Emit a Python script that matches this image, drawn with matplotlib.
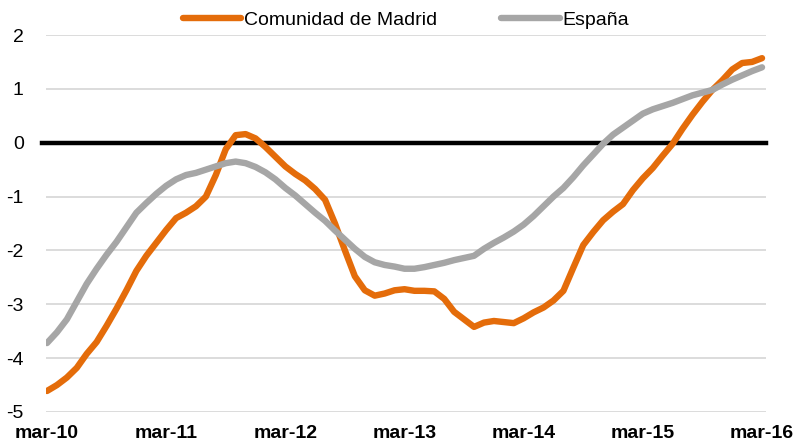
import matplotlib
matplotlib.use("Agg")
import matplotlib.pyplot as plt

plt.rcParams['font.family'] = ['Liberation Sans', 'DejaVu Sans']

tick_labels = ["mar-10", "mar-11", "mar-12", "mar-13", "mar-14", "mar-15", "mar-16"]

madrid = [-4.61, -4.50, -4.36, -4.18, -3.92, -3.70, -3.40, -3.08, -2.74, -2.38,
          -2.10, -1.86, -1.62, -1.40, -1.30, -1.18, -1.00, -0.60, -0.12, 0.14,
          0.16, 0.08, -0.08, -0.26, -0.44, -0.58, -0.70, -0.86, -1.06, -1.50,
          -2.00, -2.48, -2.74, -2.84, -2.80, -2.74, -2.72, -2.75, -2.75, -2.76,
          -2.90, -3.14, -3.28, -3.42, -3.34, -3.31, -3.33, -3.35, -3.26, -3.15,
          -3.06, -2.93, -2.75, -2.32, -1.90, -1.66, -1.44, -1.28, -1.14, -0.88,
          -0.66, -0.47, -0.24, -0.02, 0.26, 0.52, 0.76, 0.98, 1.16, 1.36,
          1.48, 1.50, 1.57]

espana = [-3.72, -3.52, -3.28, -2.95, -2.62, -2.34, -2.08, -1.84, -1.57, -1.30,
          -1.12, -0.95, -0.80, -0.68, -0.60, -0.56, -0.50, -0.44, -0.38, -0.35,
          -0.38, -0.45, -0.55, -0.68, -0.84, -0.98, -1.14, -1.30, -1.45, -1.63,
          -1.80, -1.97, -2.12, -2.22, -2.27, -2.30, -2.34, -2.34, -2.31, -2.27,
          -2.23, -2.18, -2.14, -2.10, -1.97, -1.86, -1.76, -1.65, -1.52, -1.36,
          -1.18, -1.00, -0.84, -0.64, -0.42, -0.22, -0.02, 0.15, 0.28, 0.41,
          0.54, 0.62, 0.68, 0.74, 0.81, 0.88, 0.93, 0.98, 1.08, 1.17,
          1.25, 1.33, 1.40]

series_names = ["Comunidad de Madrid", "España"]
colors = ["#E46C0A", "#A6A6A6"]

months = list(range(len(madrid)))

fig = plt.figure(figsize=(7.95, 4.47), dpi=100)
ax = fig.add_axes([46/795, 1-412/447, (766-46)/795, (412-35)/447])

ax.plot(months, madrid, color=colors[0], lw=4.6, solid_capstyle='round',
        solid_joinstyle='round', label=series_names[0], zorder=3)
ax.plot(months, espana, color=colors[1], lw=4.6, solid_capstyle='round',
        solid_joinstyle='round', label=series_names[1], zorder=4)

ax.set_xlim(-0.1, 72.4)
ax.set_ylim(-5, 2)
ax.set_yticks(range(-5, 3))
ax.set_yticklabels([str(v) for v in range(-5, 3)])
ax.set_xticks(range(0, 73, 12))
ax.set_xticklabels(tick_labels, fontweight='bold')

ax.yaxis.grid(True, color='#D9D9D9', lw=1.3)
ax.set_axisbelow(True)
ax.axhline(0, color='black', lw=3.2, zorder=2, xmin=-0.006, clip_on=False)

for s in ax.spines.values():
    s.set_visible(False)
ax.tick_params(axis='both', length=0, labelsize=14, colors='black')
ax.tick_params(axis='y', pad=16)
ax.tick_params(axis='x', pad=9)

leg = fig.legend(loc='center', bbox_to_anchor=(406/795, 1-20/447), ncol=2,
                 frameon=False, fontsize=14, handlelength=3.0,
                 handletextpad=0.15, columnspacing=3.3)
for line in leg.get_lines():
    line.set_linewidth(4.6)
    line.set_solid_capstyle('round')

fig.savefig("out.png", dpi=100)
